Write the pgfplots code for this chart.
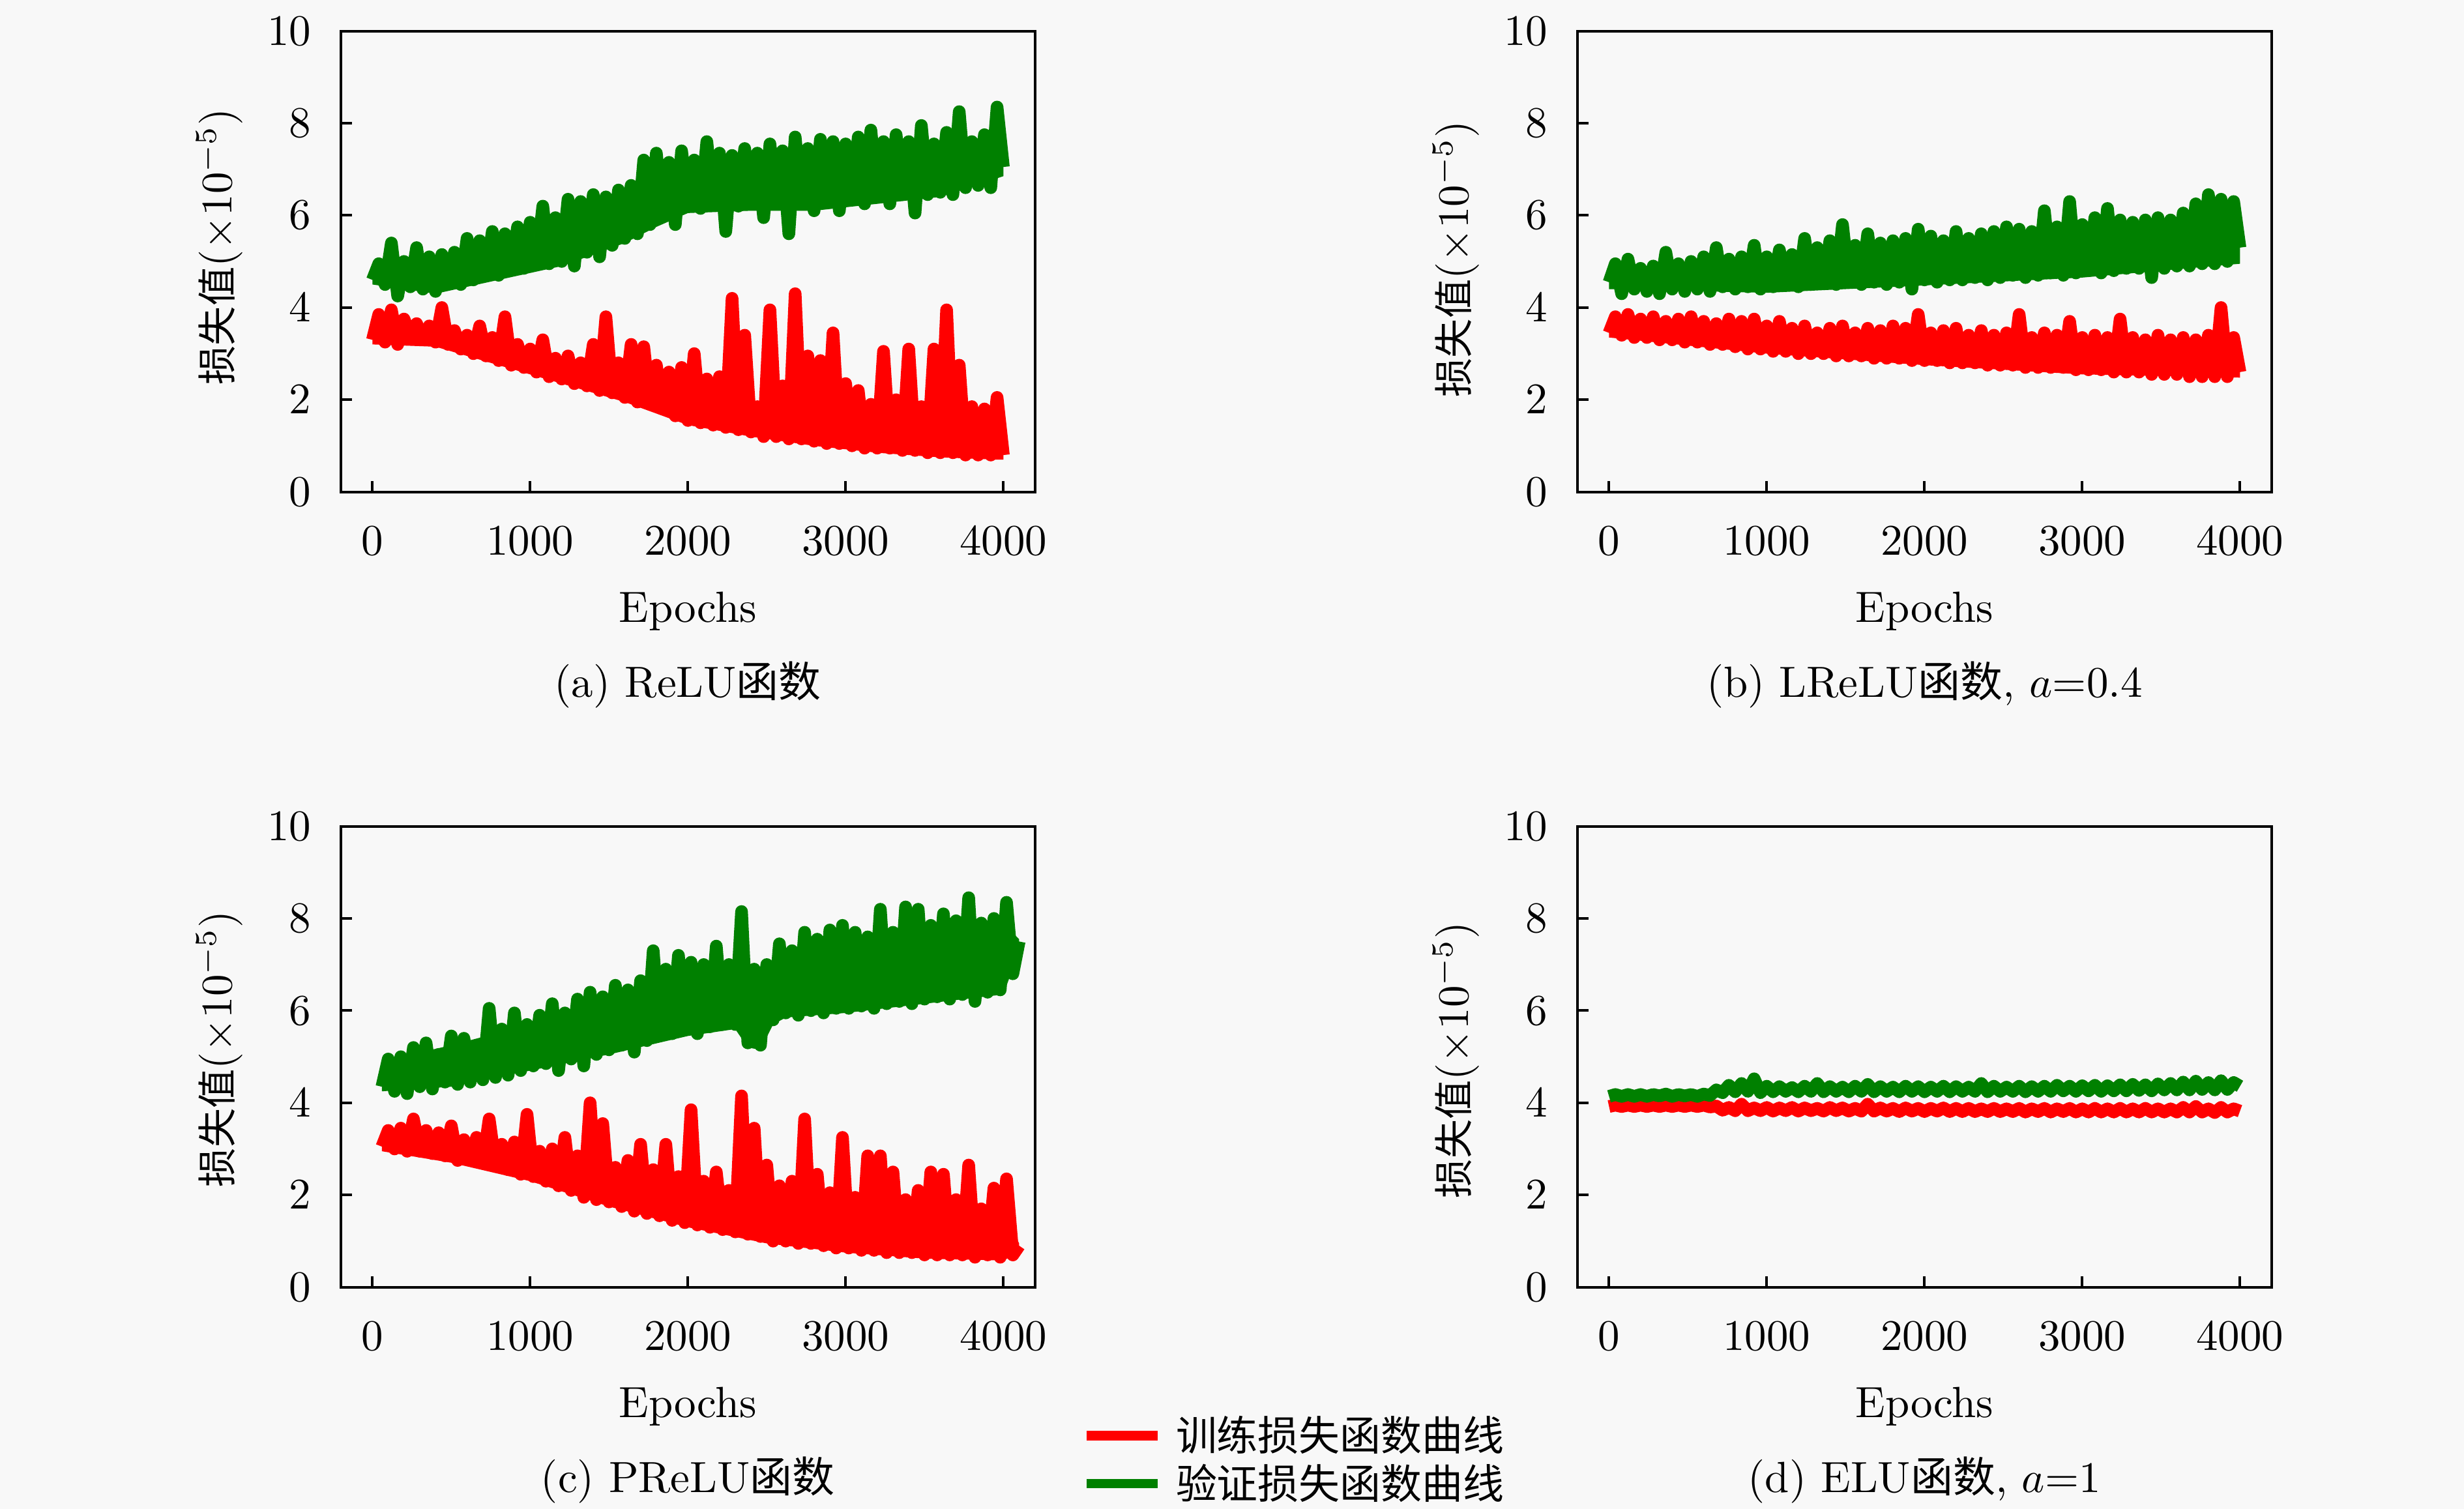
\documentclass[border=0pt]{standalone}
\usepackage{fontspec}
\usepackage{pgfplots}
\pgfplotsset{compat=1.18}
\newfontfamily\cjk{Noto Sans CJK SC}
\definecolor{myred}{RGB}{255,0,0}
\definecolor{mygreen}{RGB}{0,128,0}
\definecolor{bg}{RGB}{248,248,248}
\pgfplotsset{
  lossaxis/.style={
    scale only axis, width=159pt, height=105.6pt,
    xmin=-200, xmax=4200, ymin=0, ymax=10,
    xtick={0,1000,2000,3000,4000}, ytick={0,2,4,6,8,10},
    tick pos=left, tick align=inside, major tick length=2.5pt,
    axis line style={line width=0.6pt},
    every tick/.style={black, line width=0.6pt},
    scaled x ticks=false,
    xticklabel style={/pgf/number format/1000 sep={}, anchor=base, yshift=-14.4pt},
    yticklabel style={xshift=-3.3pt},
    xlabel={Epochs},
    xlabel style={at={(axis description cs:0.5,-0.282)}, anchor=base},
    ylabel={{\fontsize{9pt}{10pt}\cjk 损失值}(${\times}10^{-5}$)},
  },
  ylab/.style={ylabel style={at={(axis description cs:-0.175,#1)}, anchor=center}},
  train/.style={myred, line width=2.9pt, line join=round, no marks},
  val/.style={mygreen, line width=2.9pt, line join=round, no marks},
  trainfill/.style={fill=myred, draw=none, forget plot},
  valfill/.style={fill=mygreen, draw=none, forget plot},
}
\newcommand{\fn}{{\fontsize{9.7pt}{10pt}\cjk 函数}}
\newcommand{\lgd}{\fontsize{9.4pt}{10pt}\selectfont\cjk}
\begin{document}
\begin{tikzpicture}
\fill[bg] (0,0) rectangle (564.5pt,345.7pt);
\useasboundingbox (0,0) rectangle (564.5pt,345.7pt);

% (a) ReLU
\begin{axis}[lossaxis, ylab=0.532, name=pa, at={(78.1pt,233pt)}, anchor=south west]
\addplot[trainfill] table[row sep=\\]{x y\\
0 3.20\\ 400 3.15\\ 800 2.75\\ 1200 2.35\\ 1600 1.95\\ 2000 1.45\\ 2400 1.20\\ 2800 1.00\\ 3200 0.85\\ 3600 0.75\\ 3960 0.70\\ 4000 0.70\\
4000 1.00\\ 3960 1.75\\ 3600 1.85\\ 3200 1.90\\ 2800 1.95\\ 2400 1.90\\ 2000 2.45\\ 1600 2.75\\ 1200 2.90\\ 800 3.30\\ 400 3.55\\ 0 3.65\\
};
\addplot[train] table[row sep=\\]{x y\\
0 3.30\\ 40 3.85\\ 80 3.25\\ 120 3.95\\ 160 3.20\\ 200 3.75\\ 240 3.40\\ 280 3.65\\ 320 3.30\\ 360 3.60\\
400 3.25\\ 440 4.00\\ 480 3.20\\ 520 3.50\\ 560 3.10\\ 600 3.40\\ 640 3.00\\ 680 3.60\\ 720 2.95\\ 760 3.35\\
800 2.85\\ 840 3.80\\ 880 2.75\\ 920 3.20\\ 960 2.70\\ 1000 3.10\\ 1040 2.60\\ 1080 3.30\\ 1120 2.50\\ 1160 2.90\\
1200 2.45\\ 1240 2.95\\ 1280 2.35\\ 1320 2.80\\ 1360 2.30\\ 1400 3.20\\ 1440 2.20\\ 1480 3.80\\ 1520 2.15\\ 1560 2.80\\
1600 2.05\\ 1640 3.20\\ 1680 1.95\\ 1720 3.15\\ 1760 1.90\\ 1800 2.75\\ 1840 1.80\\ 1880 2.60\\ 1920 1.65\\ 1960 2.70\\
2000 1.55\\ 2040 3.00\\ 2080 1.50\\ 2120 2.45\\ 2160 1.45\\ 2200 2.50\\ 2240 1.40\\ 2280 4.20\\ 2320 1.35\\ 2360 3.40\\
2400 1.30\\ 2440 1.85\\ 2480 1.20\\ 2520 3.95\\ 2560 1.20\\ 2600 2.30\\ 2640 1.15\\ 2680 4.30\\ 2720 1.15\\ 2760 2.95\\
2800 1.10\\ 2840 2.85\\ 2880 1.05\\ 2920 3.45\\ 2960 1.05\\ 3000 2.35\\ 3040 1.00\\ 3080 2.20\\ 3120 0.95\\ 3160 1.90\\
3200 0.95\\ 3240 3.05\\ 3280 0.95\\ 3320 2.00\\ 3360 0.90\\ 3400 3.10\\ 3440 0.90\\ 3480 1.85\\ 3520 0.85\\ 3560 3.10\\
3600 0.85\\ 3640 3.95\\ 3680 0.85\\ 3720 2.75\\ 3760 0.80\\ 3800 1.85\\ 3840 0.80\\ 3880 1.80\\ 3920 0.80\\ 3960 2.05\\
4000 0.80\\
};
\addplot[valfill] table[row sep=\\]{x y\\
0 4.50\\ 400 4.30\\ 800 4.60\\ 1200 4.90\\ 1600 5.40\\ 1800 5.75\\ 2000 6.05\\ 2400 6.10\\ 2800 6.10\\ 3200 6.25\\ 3600 6.40\\ 4000 6.85\\
4000 7.20\\ 3600 7.55\\ 3200 7.55\\ 2800 7.45\\ 2400 7.30\\ 2000 7.15\\ 1800 7.05\\ 1600 6.50\\ 1200 5.95\\ 800 5.55\\ 400 5.05\\ 0 4.95\\
};
\addplot[val] table[row sep=\\]{x y\\
0 4.60\\ 40 4.95\\ 80 4.50\\ 120 5.40\\ 160 4.25\\ 200 5.00\\ 240 4.45\\ 280 5.30\\ 320 4.40\\ 360 5.10\\
400 4.35\\ 440 5.15\\ 480 4.55\\ 520 5.20\\ 560 4.50\\ 600 5.50\\ 640 4.60\\ 680 5.45\\ 720 4.70\\ 760 5.65\\
800 4.70\\ 840 5.60\\ 880 4.85\\ 920 5.75\\ 960 4.85\\ 1000 5.85\\ 1040 4.95\\ 1080 6.20\\ 1120 4.95\\ 1160 5.95\\
1200 5.00\\ 1240 6.35\\ 1280 4.90\\ 1320 6.30\\ 1360 5.20\\ 1400 6.45\\ 1440 5.10\\ 1480 6.40\\ 1520 5.35\\ 1560 6.55\\
1600 5.50\\ 1640 6.65\\ 1680 5.60\\ 1720 7.20\\ 1760 5.80\\ 1800 7.35\\ 1840 6.00\\ 1880 7.15\\ 1920 5.80\\ 1960 7.40\\
2000 6.20\\ 2040 7.20\\ 2080 6.15\\ 2120 7.60\\ 2160 6.25\\ 2200 7.35\\ 2240 5.65\\ 2280 7.30\\ 2320 6.20\\ 2360 7.45\\
2400 6.25\\ 2440 7.35\\ 2480 5.95\\ 2520 7.55\\ 2560 6.30\\ 2600 7.40\\ 2640 5.60\\ 2680 7.70\\ 2720 6.30\\ 2760 7.45\\
2800 6.10\\ 2840 7.65\\ 2880 6.30\\ 2920 7.60\\ 2960 6.10\\ 3000 7.55\\ 3040 6.35\\ 3080 7.70\\ 3120 6.25\\ 3160 7.85\\
3200 6.40\\ 3240 7.60\\ 3280 6.25\\ 3320 7.75\\ 3360 6.45\\ 3400 7.60\\ 3440 6.05\\ 3480 7.95\\ 3520 6.45\\ 3560 7.55\\
3600 6.50\\ 3640 7.80\\ 3680 6.45\\ 3720 8.25\\ 3760 6.60\\ 3800 7.60\\ 3840 6.65\\ 3880 7.75\\ 3920 6.60\\ 3960 8.35\\
4000 7.05\\
};
\end{axis}

% (b) LReLU
\begin{axis}[lossaxis, ylab=0.505, name=pb, at={(361.4pt,233pt)}, anchor=south west]
\addplot[trainfill] table[row sep=\\]{x y\\
0 3.35\\ 1000 3.00\\ 2000 2.75\\ 3000 2.55\\ 4000 2.48\\
4000 3.20\\ 3000 3.30\\ 2000 3.40\\ 1000 3.55\\ 0 3.75\\
};
\addplot[train] table[row sep=\\]{x y\\
0 3.45\\ 40 3.80\\ 80 3.40\\ 120 3.85\\ 160 3.35\\ 200 3.75\\ 240 3.35\\ 280 3.80\\ 320 3.30\\ 360 3.70\\
400 3.30\\ 440 3.75\\ 480 3.25\\ 520 3.80\\ 560 3.25\\ 600 3.70\\ 640 3.20\\ 680 3.65\\ 720 3.20\\ 760 3.75\\
800 3.15\\ 840 3.70\\ 880 3.10\\ 920 3.75\\ 960 3.10\\ 1000 3.60\\ 1040 3.05\\ 1080 3.70\\ 1120 3.05\\ 1160 3.55\\
1200 3.00\\ 1240 3.60\\ 1280 3.00\\ 1320 3.45\\ 1360 3.00\\ 1400 3.55\\ 1440 2.95\\ 1480 3.60\\ 1520 2.95\\ 1560 3.45\\
1600 2.95\\ 1640 3.55\\ 1680 2.90\\ 1720 3.50\\ 1760 2.90\\ 1800 3.60\\ 1840 2.90\\ 1880 3.55\\ 1920 2.85\\ 1960 3.85\\
2000 2.85\\ 2040 3.45\\ 2080 2.85\\ 2120 3.50\\ 2160 2.80\\ 2200 3.55\\ 2240 2.80\\ 2280 3.40\\ 2320 2.80\\ 2360 3.50\\
2400 2.75\\ 2440 3.40\\ 2480 2.75\\ 2520 3.45\\ 2560 2.75\\ 2600 3.85\\ 2640 2.70\\ 2680 3.35\\ 2720 2.70\\ 2760 3.45\\
2800 2.70\\ 2840 3.40\\ 2880 2.70\\ 2920 3.70\\ 2960 2.65\\ 3000 3.35\\ 3040 2.65\\ 3080 3.40\\ 3120 2.65\\ 3160 3.35\\
3200 2.60\\ 3240 3.75\\ 3280 2.60\\ 3320 3.35\\ 3360 2.60\\ 3400 3.30\\ 3440 2.55\\ 3480 3.40\\ 3520 2.55\\ 3560 3.30\\
3600 2.55\\ 3640 3.35\\ 3680 2.50\\ 3720 3.30\\ 3760 2.50\\ 3800 3.40\\ 3840 2.50\\ 3880 4.00\\ 3920 2.50\\ 3960 3.35\\
4000 2.60\\
};
\addplot[valfill] table[row sep=\\]{x y\\
0 4.40\\ 1000 4.32\\ 2000 4.48\\ 3000 4.65\\ 4000 4.95\\
4000 5.90\\ 3000 5.75\\ 2000 5.45\\ 1000 5.05\\ 0 4.85\\
};
\addplot[val] table[row sep=\\]{x y\\
0 4.55\\ 40 4.95\\ 80 4.30\\ 120 5.05\\ 160 4.40\\ 200 4.85\\ 240 4.35\\ 280 4.90\\ 320 4.30\\ 360 5.20\\
400 4.40\\ 440 4.95\\ 480 4.35\\ 520 5.00\\ 560 4.40\\ 600 5.10\\ 640 4.35\\ 680 5.30\\ 720 4.45\\ 760 5.05\\
800 4.40\\ 840 5.10\\ 880 4.45\\ 920 5.35\\ 960 4.40\\ 1000 5.10\\ 1040 4.45\\ 1080 5.25\\ 1120 4.50\\ 1160 5.15\\
1200 4.45\\ 1240 5.50\\ 1280 4.50\\ 1320 5.30\\ 1360 4.55\\ 1400 5.45\\ 1440 4.50\\ 1480 5.80\\ 1520 4.55\\ 1560 5.35\\
1600 4.50\\ 1640 5.60\\ 1680 4.55\\ 1720 5.40\\ 1760 4.50\\ 1800 5.45\\ 1840 4.55\\ 1880 5.50\\ 1920 4.40\\ 1960 5.70\\
2000 4.60\\ 2040 5.55\\ 2080 4.55\\ 2120 5.45\\ 2160 4.60\\ 2200 5.65\\ 2240 4.60\\ 2280 5.50\\ 2320 4.65\\ 2360 5.60\\
2400 4.60\\ 2440 5.65\\ 2480 4.65\\ 2520 5.75\\ 2560 4.70\\ 2600 5.70\\ 2640 4.65\\ 2680 5.65\\ 2720 4.70\\ 2760 6.10\\
2800 4.75\\ 2840 5.75\\ 2880 4.70\\ 2920 6.30\\ 2960 4.75\\ 3000 5.80\\ 3040 4.80\\ 3080 5.95\\ 3120 4.75\\ 3160 6.15\\
3200 4.80\\ 3240 5.90\\ 3280 4.85\\ 3320 5.85\\ 3360 4.85\\ 3400 5.90\\ 3440 4.65\\ 3480 5.95\\ 3520 4.85\\ 3560 5.90\\
3600 4.90\\ 3640 6.05\\ 3680 4.90\\ 3720 6.25\\ 3760 4.95\\ 3800 6.45\\ 3840 4.95\\ 3880 6.35\\ 3920 5.00\\ 3960 6.30\\
4000 5.30\\
};
\end{axis}

% (c) PReLU
\begin{axis}[lossaxis, ylab=0.517, name=pc, at={(78.1pt,50.8pt)}, anchor=south west,
  legend style={at={(axis description cs:1.068,-0.27)}, anchor=north west, draw=none, fill=none,
    inner sep=0pt, outer sep=0pt, row sep=0pt,
    nodes={inner sep=0.5pt, text height=8.5pt, text depth=1.5pt},
    /tikz/every even column/.append style={column sep=6.4pt}},
  legend cell align=left,
  legend image code/.code={\draw[#1, line width=2.1pt] (0pt,0pt) -- (16.3pt,0pt); \path (18.5pt,0pt);}]
\addplot[trainfill] table[row sep=\\]{x y\\
60 2.95\\ 500 2.70\\ 1000 2.30\\ 1500 1.75\\ 2000 1.30\\ 2500 0.95\\ 3000 0.75\\ 3500 0.62\\ 4000 0.58\\ 4100 0.75\\
4100 0.95\\ 4000 1.65\\ 3500 1.85\\ 3000 1.90\\ 2500 2.10\\ 2000 2.30\\ 1500 2.55\\ 1000 2.90\\ 500 3.20\\ 60 3.35\\
};
\addplot[train] table[row sep=\\]{x y\\
60 3.05\\ 100 3.40\\ 140 3.00\\ 180 3.45\\ 220 2.95\\ 260 3.65\\ 300 2.95\\ 340 3.40\\ 380 2.90\\ 420 3.35\\
460 2.85\\ 500 3.50\\ 540 2.75\\ 580 3.20\\ 620 2.75\\ 660 3.25\\ 700 2.70\\ 740 3.65\\ 780 2.65\\ 820 3.10\\
860 2.55\\ 900 3.15\\ 940 2.45\\ 980 3.75\\ 1020 2.40\\ 1060 2.95\\ 1100 2.30\\ 1140 3.00\\ 1180 2.20\\ 1220 3.25\\
1260 2.10\\ 1300 2.85\\ 1340 1.95\\ 1380 4.00\\ 1420 1.90\\ 1460 3.55\\ 1500 1.85\\ 1540 2.60\\ 1580 1.75\\ 1620 2.75\\
1660 1.65\\ 1700 3.10\\ 1740 1.60\\ 1780 2.55\\ 1820 1.55\\ 1860 3.10\\ 1900 1.45\\ 1940 2.40\\ 1980 1.40\\ 2020 3.85\\
2060 1.35\\ 2100 2.30\\ 2140 1.30\\ 2180 2.50\\ 2220 1.25\\ 2260 2.10\\ 2300 1.20\\ 2340 4.15\\ 2380 1.15\\ 2420 3.45\\
2460 1.10\\ 2500 2.65\\ 2540 1.00\\ 2580 2.20\\ 2620 1.00\\ 2660 2.30\\ 2700 0.95\\ 2740 3.65\\ 2780 0.95\\ 2820 2.45\\
2860 0.90\\ 2900 2.05\\ 2940 0.85\\ 2980 3.25\\ 3020 0.85\\ 3060 1.95\\ 3100 0.80\\ 3140 2.85\\ 3180 0.80\\ 3220 2.85\\
3260 0.75\\ 3300 2.50\\ 3340 0.75\\ 3380 1.90\\ 3420 0.75\\ 3460 2.10\\ 3500 0.70\\ 3540 2.50\\ 3580 0.70\\ 3620 2.45\\
3660 0.70\\ 3700 1.90\\ 3740 0.70\\ 3780 2.65\\ 3820 0.65\\ 3860 1.70\\ 3900 0.70\\ 3940 2.15\\ 3980 0.65\\ 4020 2.35\\
4060 0.70\\ 4100 0.90\\
};
\addlegendentry{\lgd 训练损失函数曲线}
\addplot[valfill] table[row sep=\\]{x y\\
60 4.25\\ 500 4.35\\ 1000 4.70\\ 1500 5.05\\ 2000 5.45\\ 2300 5.60\\ 2380 5.20\\ 2460 5.15\\ 2540 5.70\\ 2620 5.85\\ 3000 5.95\\ 3500 6.15\\ 4000 6.35\\ 4100 7.30\\
4100 7.55\\ 4000 7.90\\ 3500 7.80\\ 3000 7.60\\ 2620 7.20\\ 2500 7.00\\ 2400 6.90\\ 2300 7.00\\ 2000 7.00\\ 1500 6.30\\ 1000 5.70\\ 500 5.25\\ 60 4.90\\
};
\addplot[val] table[row sep=\\]{x y\\
60 4.35\\ 100 4.95\\ 140 4.25\\ 180 5.00\\ 220 4.20\\ 260 5.20\\ 300 4.35\\ 340 5.30\\ 380 4.30\\ 420 5.05\\
460 4.45\\ 500 5.45\\ 540 4.40\\ 580 5.40\\ 620 4.45\\ 660 5.25\\ 700 4.50\\ 740 6.05\\ 780 4.55\\ 820 5.60\\
860 4.60\\ 900 5.95\\ 940 4.70\\ 980 5.70\\ 1020 4.80\\ 1060 5.90\\ 1100 4.85\\ 1140 6.15\\ 1180 4.70\\ 1220 5.95\\
1260 4.95\\ 1300 6.25\\ 1340 4.80\\ 1380 6.40\\ 1420 5.05\\ 1460 6.30\\ 1500 5.15\\ 1540 6.55\\ 1580 5.25\\ 1620 6.45\\
1660 5.10\\ 1700 6.65\\ 1740 5.35\\ 1780 7.30\\ 1820 5.45\\ 1860 6.90\\ 1900 5.50\\ 1940 7.20\\ 1980 5.60\\ 2020 7.05\\
2060 5.50\\ 2100 7.00\\ 2140 5.65\\ 2180 7.40\\ 2220 5.70\\ 2260 7.00\\ 2300 5.70\\ 2340 8.15\\ 2380 5.30\\ 2420 6.90\\
2460 5.25\\ 2500 7.00\\ 2540 5.80\\ 2580 7.45\\ 2620 5.95\\ 2660 7.30\\ 2700 5.90\\ 2740 7.70\\ 2780 6.00\\ 2820 7.55\\
2860 5.95\\ 2900 7.75\\ 2940 6.05\\ 2980 7.85\\ 3020 6.05\\ 3060 7.70\\ 3100 6.10\\ 3140 7.60\\ 3180 6.05\\ 3220 8.20\\
3260 6.15\\ 3300 7.70\\ 3340 6.20\\ 3380 8.25\\ 3420 6.15\\ 3460 8.20\\ 3500 6.25\\ 3540 7.85\\ 3580 6.30\\ 3620 8.10\\
3660 6.25\\ 3700 7.95\\ 3740 6.35\\ 3780 8.45\\ 3820 6.20\\ 3860 7.90\\ 3900 6.40\\ 3940 8.00\\ 3980 6.45\\ 4020 8.35\\
4060 6.80\\ 4100 7.50\\
};
\addlegendentry{\lgd 验证损失函数曲线}
\end{axis}

% (d) ELU
\begin{axis}[lossaxis, ylab=0.493, name=pd, at={(361.4pt,50.8pt)}, anchor=south west]
\addplot[train] table[row sep=\\]{x y\\
0 3.92\\ 40 3.95\\ 80 3.92\\ 120 3.95\\ 160 3.92\\ 200 3.95\\ 240 3.92\\ 280 3.95\\ 320 3.92\\ 360 3.95\\
400 3.92\\ 440 3.95\\ 480 3.92\\ 520 3.95\\ 560 3.92\\ 600 3.95\\ 640 3.91\\ 680 3.93\\ 720 3.84\\ 760 3.90\\
800 3.83\\ 840 3.97\\ 880 3.83\\ 920 3.89\\ 960 3.83\\ 1000 3.90\\ 1040 3.82\\ 1080 3.89\\ 1120 3.83\\ 1160 3.90\\
1200 3.82\\ 1240 3.89\\ 1280 3.83\\ 1320 3.88\\ 1360 3.82\\ 1400 3.90\\ 1440 3.83\\ 1480 3.89\\ 1520 3.82\\ 1560 3.88\\
1600 3.82\\ 1640 3.97\\ 1680 3.82\\ 1720 3.89\\ 1760 3.82\\ 1800 3.88\\ 1840 3.81\\ 1880 3.89\\ 1920 3.82\\ 1960 3.88\\
2000 3.81\\ 2040 3.88\\ 2080 3.82\\ 2120 3.89\\ 2160 3.81\\ 2200 3.88\\ 2240 3.81\\ 2280 3.88\\ 2320 3.81\\ 2360 3.87\\
2400 3.81\\ 2440 3.88\\ 2480 3.81\\ 2520 3.87\\ 2560 3.81\\ 2600 3.88\\ 2640 3.80\\ 2680 3.87\\ 2720 3.81\\ 2760 3.88\\
2800 3.80\\ 2840 3.87\\ 2880 3.81\\ 2920 3.88\\ 2960 3.80\\ 3000 3.87\\ 3040 3.80\\ 3080 3.88\\ 3120 3.80\\ 3160 3.87\\
3200 3.80\\ 3240 3.88\\ 3280 3.80\\ 3320 3.87\\ 3360 3.80\\ 3400 3.88\\ 3440 3.80\\ 3480 3.87\\ 3520 3.80\\ 3560 3.87\\
3600 3.80\\ 3640 3.90\\ 3680 3.80\\ 3720 3.92\\ 3760 3.80\\ 3800 3.87\\ 3840 3.79\\ 3880 3.90\\ 3920 3.80\\ 3960 3.87\\
4000 3.82\\
};
\addplot[val] table[row sep=\\]{x y\\
0 4.14\\ 40 4.18\\ 80 4.14\\ 120 4.18\\ 160 4.14\\ 200 4.18\\ 240 4.14\\ 280 4.18\\ 320 4.15\\ 360 4.19\\
400 4.14\\ 440 4.18\\ 480 4.15\\ 520 4.18\\ 560 4.14\\ 600 4.19\\ 640 4.16\\ 680 4.28\\ 720 4.22\\ 760 4.38\\
800 4.24\\ 840 4.42\\ 880 4.25\\ 920 4.52\\ 960 4.22\\ 1000 4.36\\ 1040 4.24\\ 1080 4.35\\ 1120 4.25\\ 1160 4.33\\
1200 4.24\\ 1240 4.36\\ 1280 4.25\\ 1320 4.42\\ 1360 4.24\\ 1400 4.35\\ 1440 4.25\\ 1480 4.34\\ 1520 4.24\\ 1560 4.36\\
1600 4.25\\ 1640 4.40\\ 1680 4.24\\ 1720 4.35\\ 1760 4.25\\ 1800 4.34\\ 1840 4.24\\ 1880 4.36\\ 1920 4.25\\ 1960 4.35\\
2000 4.24\\ 2040 4.34\\ 2080 4.25\\ 2120 4.36\\ 2160 4.24\\ 2200 4.35\\ 2240 4.25\\ 2280 4.34\\ 2320 4.25\\ 2360 4.42\\
2400 4.24\\ 2440 4.36\\ 2480 4.25\\ 2520 4.34\\ 2560 4.25\\ 2600 4.36\\ 2640 4.24\\ 2680 4.35\\ 2720 4.25\\ 2760 4.36\\
2800 4.25\\ 2840 4.38\\ 2880 4.26\\ 2920 4.36\\ 2960 4.25\\ 3000 4.37\\ 3040 4.26\\ 3080 4.38\\ 3120 4.25\\ 3160 4.37\\
3200 4.26\\ 3240 4.39\\ 3280 4.26\\ 3320 4.40\\ 3360 4.27\\ 3400 4.39\\ 3440 4.26\\ 3480 4.41\\ 3520 4.28\\ 3560 4.42\\
3600 4.28\\ 3640 4.45\\ 3680 4.28\\ 3720 4.47\\ 3760 4.29\\ 3800 4.44\\ 3840 4.28\\ 3880 4.48\\ 3920 4.29\\ 3960 4.44\\
4000 4.36\\
};
\end{axis}

\node[anchor=base, yshift=-47pt] at (pa.south) {(a) ReLU\fn};
\node[anchor=base, yshift=-47pt] at (pb.south) {(b) LReLU\fn, $a$=0.4};
\node[anchor=base, yshift=-47pt] at (pc.south) {(c) PReLU\fn};
\node[anchor=base, yshift=-47pt] at (pd.south) {(d) ELU\fn, $a$=1};
\end{tikzpicture}
\end{document}
